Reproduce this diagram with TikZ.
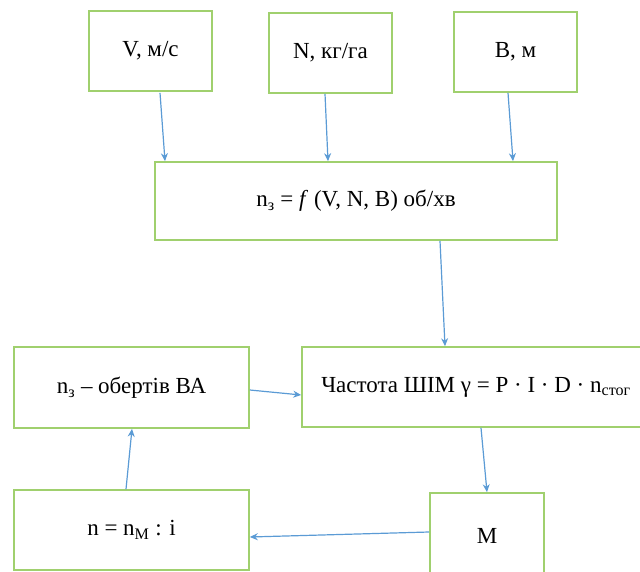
\documentclass[tikz,border=0pt]{standalone}
\usepackage{fontspec}
\setmainfont{Liberation Serif}
\usetikzlibrary{arrows.meta,calc}
\definecolor{boxgreen}{RGB}{160,208,110}
\definecolor{arrblue}{RGB}{91,155,213}
\begin{document}
\begin{tikzpicture}[x=1pt,y=-1pt,
  box/.style={draw=boxgreen,line width=1.6pt,fill=white,inner sep=0pt,
    font=\fontsize{23}{27}\selectfont,text=black},
  arr/.style={draw=arrblue,line width=1.2pt,-{Stealth[length=8pt,width=7pt]}}]
\useasboundingbox (0,0) rectangle (640,572);
\node[box,minimum width=123,minimum height=80] (V) at (150.5,51) {V, м/с};
\node[box,minimum width=123,minimum height=80] (N) at (330.5,53) {N, кг/га};
\node[box,minimum width=123,minimum height=80] (B) at (515.5,52) {B, м};
\node[box,minimum width=402,minimum height=78] (mid) at (356,201) {n\textsubscript{з} = \textit{f} (V, N, B) об/хв};
\node[box,minimum width=235,minimum height=81] (n3) at (131.5,387.5) {n\textsubscript{з} – обертів ВА};
\node[box,minimum width=348,minimum height=80] (ch) at (476,387) {Частота ШІМ γ = P · I · D · n\textsubscript{стог}};
\node[box,minimum width=235,minimum height=80] (n) at (131.5,530) {n = n\textsubscript{М} : i};
\node[box,minimum width=114,minimum height=85] (M) at (487,535.5) {M};
\draw[arr] ($(V.south)+(9.5,1)$) -- ($(mid.north)+(-191,0)$);
\draw[arr] ($(N.south)+(-5.5,0)$) -- ($(mid.north)+(-28,0)$);
\draw[arr] ($(B.south)+(-7.5,0)$) -- ($(mid.north)+(157,0)$);
\draw[arr] ($(mid.south)+(84,0)$) -- ($(ch.north)+(-31,0)$);
\draw[arr] ($(ch.south)+(5,0)$) -- (M.north);
\draw[arr] ($(n3.east)+(0,2.5)$) -- ($(ch.west)+(0,8)$);
\draw[arr] ($(M.west)+(0,-3.5)$) -- ($(n.east)+(0,7)$);
\draw[arr] ($(n.north)+(-5.5,0)$) -- ($(n3.south)+(0.5,0)$);
\end{tikzpicture}
\end{document}
